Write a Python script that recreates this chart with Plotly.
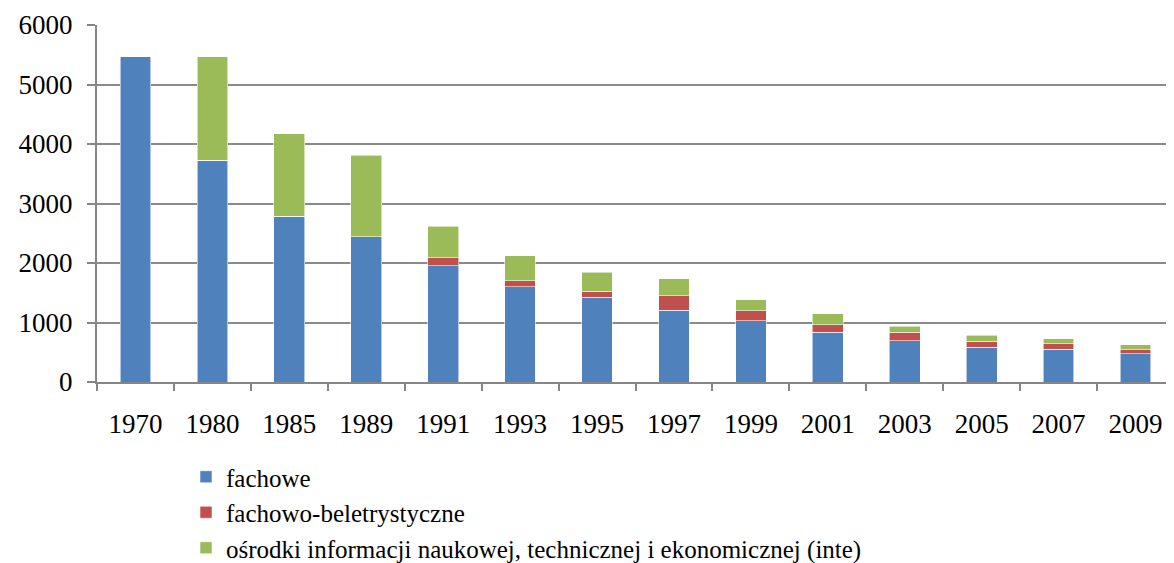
import plotly.graph_objects as go

years = ["1970", "1980", "1985", "1989", "1991", "1993", "1995", "1997",
         "1999", "2001", "2003", "2005", "2007", "2009"]
fachowe = [5470, 3730, 2790, 2440, 1950, 1600, 1425, 1205, 1030, 840, 695, 580, 547, 475]
fachowo_beletrystyczne = [0, 0, 0, 0, 135, 100, 100, 245, 170, 125, 140, 105, 100, 67]
osrodki = [0, 1740, 1380, 1375, 535, 425, 320, 285, 185, 185, 105, 105, 80, 80]

names = ["fachowe", "fachowo-beletrystyczne",
         "ośrodki informacji naukowej, technicznej i ekonomicznej (inte)"]
colors = ["#4F81BD", "#C0504D", "#9BBB59"]
series = [fachowe, fachowo_beletrystyczne, osrodki]

fig = go.Figure()
for i, (nm, col, vals) in enumerate(zip(names, colors, series)):
    fig.add_trace(go.Bar(
        x=years, y=vals, name=nm, legendgroup=str(i),
        marker=dict(color=col, line=dict(color="rgba(255,255,255,0.7)", width=0.8)),
    ))

font_family = "Liberation Serif, Times New Roman, serif"
fig.update_layout(
    barmode="stack",
    bargap=0.6,
    width=1174, height=563,
    margin=dict(l=89, r=8, t=17, b=189, autoexpand=False),
    plot_bgcolor="white", paper_bgcolor="white",
    font=dict(family=font_family, color="black"),
    legend=dict(
        orientation="v", xref="container", yref="container",
        x=178 / 1174, xanchor="left", y=1 - 446 / 563, yanchor="top",
        font=dict(size=25, family=font_family, color="black"),
        traceorder="grouped", tracegroupgap=0,
        bgcolor="rgba(0,0,0,0)",
    ),
    showlegend=True,
)
fig.update_xaxes(
    type="category", showgrid=False, tickangle=0,
    showline=True, linecolor="#868686", linewidth=2,
    ticks="outside", tickson="boundaries", ticklen=7, tickwidth=2, tickcolor="#868686",
    tickfont=dict(size=27, family=font_family, color="black"),
    ticklabelstandoff=17,
)
fig.update_yaxes(
    range=[0, 6000], dtick=1000,
    showgrid=True, gridcolor="#8a8a8a", gridwidth=1.5,
    showline=True, linecolor="#868686", linewidth=2,
    ticks="outside", ticklen=8, tickwidth=1.5, tickcolor="#868686",
    tickfont=dict(size=27, family=font_family, color="black"),
    ticklabelstandoff=9,
    zeroline=False,
)

fig.write_html("out.html")
